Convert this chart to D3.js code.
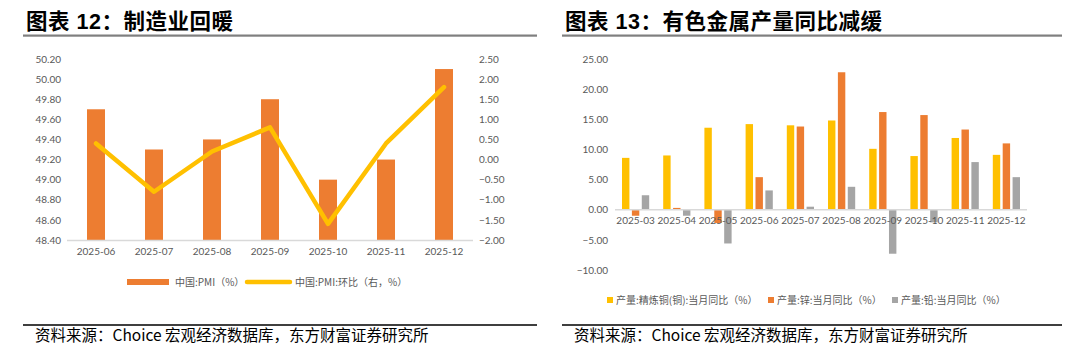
<!DOCTYPE html>
<html><head><meta charset="utf-8">
<script src="https://cdn.jsdelivr.net/npm/d3@7/dist/d3.min.js"></script>
<style>
body{margin:0;background:#fff;}
svg{display:block;}
</style></head><body>
<svg id="c" width="1080" height="356"></svg>
<script>
// Left chart data
const pmiMonths = ["2025-06","2025-07","2025-08","2025-09","2025-10","2025-11","2025-12"];
const pmiValues = [49.7, 49.3, 49.4, 49.8, 49.0, 49.2, 50.1];
const pmiChange = [0.4, -0.8, 0.2, 0.8, -1.6, 0.4, 1.8];
const leftTicks = [48.4,48.6,48.8,49.0,49.2,49.4,49.6,49.8,50.0,50.2];
const rightTicks = [-2,-1.5,-1,-0.5,0,0.5,1,1.5,2,2.5];

// Right chart data
const metalMonths = ["2025-03","2025-04","2025-05","2025-06","2025-07","2025-08","2025-09","2025-10","2025-11","2025-12"];
const copperYoY = [8.6, 9.0, 13.6, 14.2, 14.0, 14.8, 10.1, 8.9, 11.9, 9.1];
const zincYoY = [-1.0, 0.3, -2.2, 5.4, 13.8, 22.8, 16.2, 15.7, 13.3, 11.0];
const leadYoY = [2.4, -1.0, -5.6, 3.2, 0.5, 3.8, -7.3, -2.1, 7.9, 5.4];
const metalTicks = [-10,-5,0,5,10,15,20,25];
const metalSeries = ["产量:精炼铜(铜):当月同比（%）","产量:锌:当月同比（%）","产量:铅:当月同比（%）"];

const svg = d3.select("#c");
const NUM = "Lato, 'Open Sans', sans-serif";
const CJK = "'Noto Sans CJK SC', sans-serif";
const axisColor = "#595959";

// ---------- Titles / frames ----------
function frame(x0, x1, title) {
  svg.append("text").attr("x", x0 + 3).attr("y", 29)
    .attr("font-family", "'Liberation Sans', " + CJK).attr("font-weight", "bold")
    .attr("font-size", 21.5).attr("letter-spacing", 0.5).attr("fill", "#000").text(title);
  svg.append("rect").attr("x", x0).attr("y", 34.5).attr("width", x1 - x0).attr("height", 2.2).attr("fill", "#7f7f7f");
  svg.append("rect").attr("x", x0).attr("y", 324).attr("width", x1 - x0).attr("height", 2).attr("fill", "#3f3f3f");
  svg.append("text").attr("x", x0 + 12).attr("y", 341)
    .attr("font-family", CJK).attr("font-size", 15.5).attr("fill", "#000")
    .text("资料来源：Choice 宏观经济数据库，东方财富证券研究所");
}
frame(23, 537, "图表 12：制造业回暖");
frame(562, 1062, "图表 13：有色金属产量同比减缓");

// ---------- Left chart ----------
const L = {x0: 67, x1: 473, yTop: 59, yBot: 240};
const xL = d3.scaleBand().domain(pmiMonths).range([L.x0, L.x1]).paddingInner(0).paddingOuter(0);
const yL = d3.scaleLinear().domain([48.4, 50.2]).range([L.yBot, L.yTop]);
const yR = d3.scaleLinear().domain([-2, 2.5]).range([L.yBot, L.yTop]);
const gL = svg.append("g");

const bw = 18;
gL.selectAll("rect.pmi").data(pmiValues).join("rect")
  .attr("x", (d, i) => xL(pmiMonths[i]) + xL.bandwidth() / 2 - bw / 2)
  .attr("y", d => yL(d)).attr("width", bw).attr("height", d => yL(48.4) - yL(d))
  .attr("fill", "#ed7d31");

gL.append("line").attr("x1", L.x0).attr("x2", L.x1).attr("y1", L.yBot + 0.5).attr("y2", L.yBot + 0.5)
  .attr("stroke", "#d9d9d9").attr("stroke-width", 1.5);

const line = d3.line().x((d, i) => xL(pmiMonths[i]) + xL.bandwidth() / 2).y(d => yR(d));
gL.append("path").datum(pmiChange).attr("d", line).attr("fill", "none")
  .attr("stroke", "#ffc000").attr("stroke-width", 4.5).attr("stroke-linecap", "round").attr("stroke-linejoin", "round");

const axL = d3.axisLeft(yL).tickValues(leftTicks).tickFormat(d3.format(".2f")).tickSize(0).tickPadding(0);
const gAxL = gL.append("g").attr("transform", `translate(${L.x0 - 6},0)`).call(axL);
const axR = d3.axisRight(yR).tickValues(rightTicks).tickFormat(d3.format(".2f")).tickSize(0).tickPadding(0);
const gAxR = gL.append("g").attr("transform", `translate(${L.x1 + 6},0)`).call(axR);
const axB = d3.axisBottom(xL).tickSize(0).tickPadding(0);
const gAxB = gL.append("g").attr("transform", `translate(0,${L.yBot + 8})`).call(axB);
[gAxL, gAxR, gAxB].forEach(g => {
  g.select(".domain").remove();
  g.selectAll("text").attr("font-family", NUM).attr("font-size", 10).attr("fill", axisColor);
});
gAxB.selectAll("text").attr("dy", "0.71em");

// left legend
const lg = svg.append("g").attr("font-family", CJK).attr("font-size", 10).attr("fill", axisColor);
lg.append("rect").attr("x", 127).attr("y", 279).attr("width", 42).attr("height", 6).attr("fill", "#ed7d31");
lg.append("text").attr("x", 175).attr("y", 286).text("中国:PMI（%）");
lg.append("line").attr("x1", 247).attr("x2", 290).attr("y1", 282).attr("y2", 282)
  .attr("stroke", "#ffc000").attr("stroke-width", 4.5).attr("stroke-linecap", "round");
lg.append("text").attr("x", 295).attr("y", 286).text("中国:PMI:环比（右，%）");

// ---------- Right chart ----------
const R = {x0: 615, x1: 1027, yTop: 59, yBot: 270};
const x0R = d3.scaleBand().domain(metalMonths).range([R.x0, R.x1]).paddingInner(0).paddingOuter(0);
const x1R = d3.scaleBand().domain([0, 1, 2]).range([7, x0R.bandwidth() - 7]).paddingInner(0.25).paddingOuter(0);
const yM = d3.scaleLinear().domain([-10, 25]).range([R.yBot, R.yTop]);
const colors = ["#ffc000", "#ed7d31", "#a5a5a5"];
const series = [copperYoY, zincYoY, leadYoY];
const gR = svg.append("g");

series.forEach((vals, si) => {
  gR.selectAll(null).data(vals).join("rect")
    .attr("x", (d, i) => x0R(metalMonths[i]) + x1R(si))
    .attr("y", d => yM(Math.max(0, d)))
    .attr("width", x1R.bandwidth())
    .attr("height", d => Math.abs(yM(d) - yM(0)))
    .attr("fill", colors[si]);
});
gR.append("line").attr("x1", R.x0).attr("x2", R.x1).attr("y1", yM(0)).attr("y2", yM(0))
  .attr("stroke", "#d9d9d9").attr("stroke-width", 1.5);

const axM = d3.axisLeft(yM).tickValues(metalTicks).tickFormat(d3.format(".2f")).tickSize(0).tickPadding(0);
const gAxM = gR.append("g").attr("transform", `translate(${R.x0 - 7},0)`).call(axM);
const axMB = d3.axisBottom(x0R).tickSize(0).tickPadding(0);
const gAxMB = gR.append("g").attr("transform", `translate(0,${yM(0) + 7})`).call(axMB);
[gAxM, gAxMB].forEach(g => {
  g.select(".domain").remove();
  g.selectAll("text").attr("font-family", NUM).attr("font-size", 10).attr("fill", axisColor);
});
gAxMB.selectAll("text").attr("dy", "0.71em");

// right legend
const rl = svg.append("g").attr("font-family", CJK).attr("font-size", 10).attr("fill", axisColor);
const legX = [607, 768, 892];
metalSeries.forEach((s, i) => {
  rl.append("rect").attr("x", legX[i]).attr("y", 297).attr("width", 6).attr("height", 6).attr("fill", colors[i]);
  rl.append("text").attr("x", legX[i] + 9).attr("y", 304).text(s);
});
</script>
</body></html>
